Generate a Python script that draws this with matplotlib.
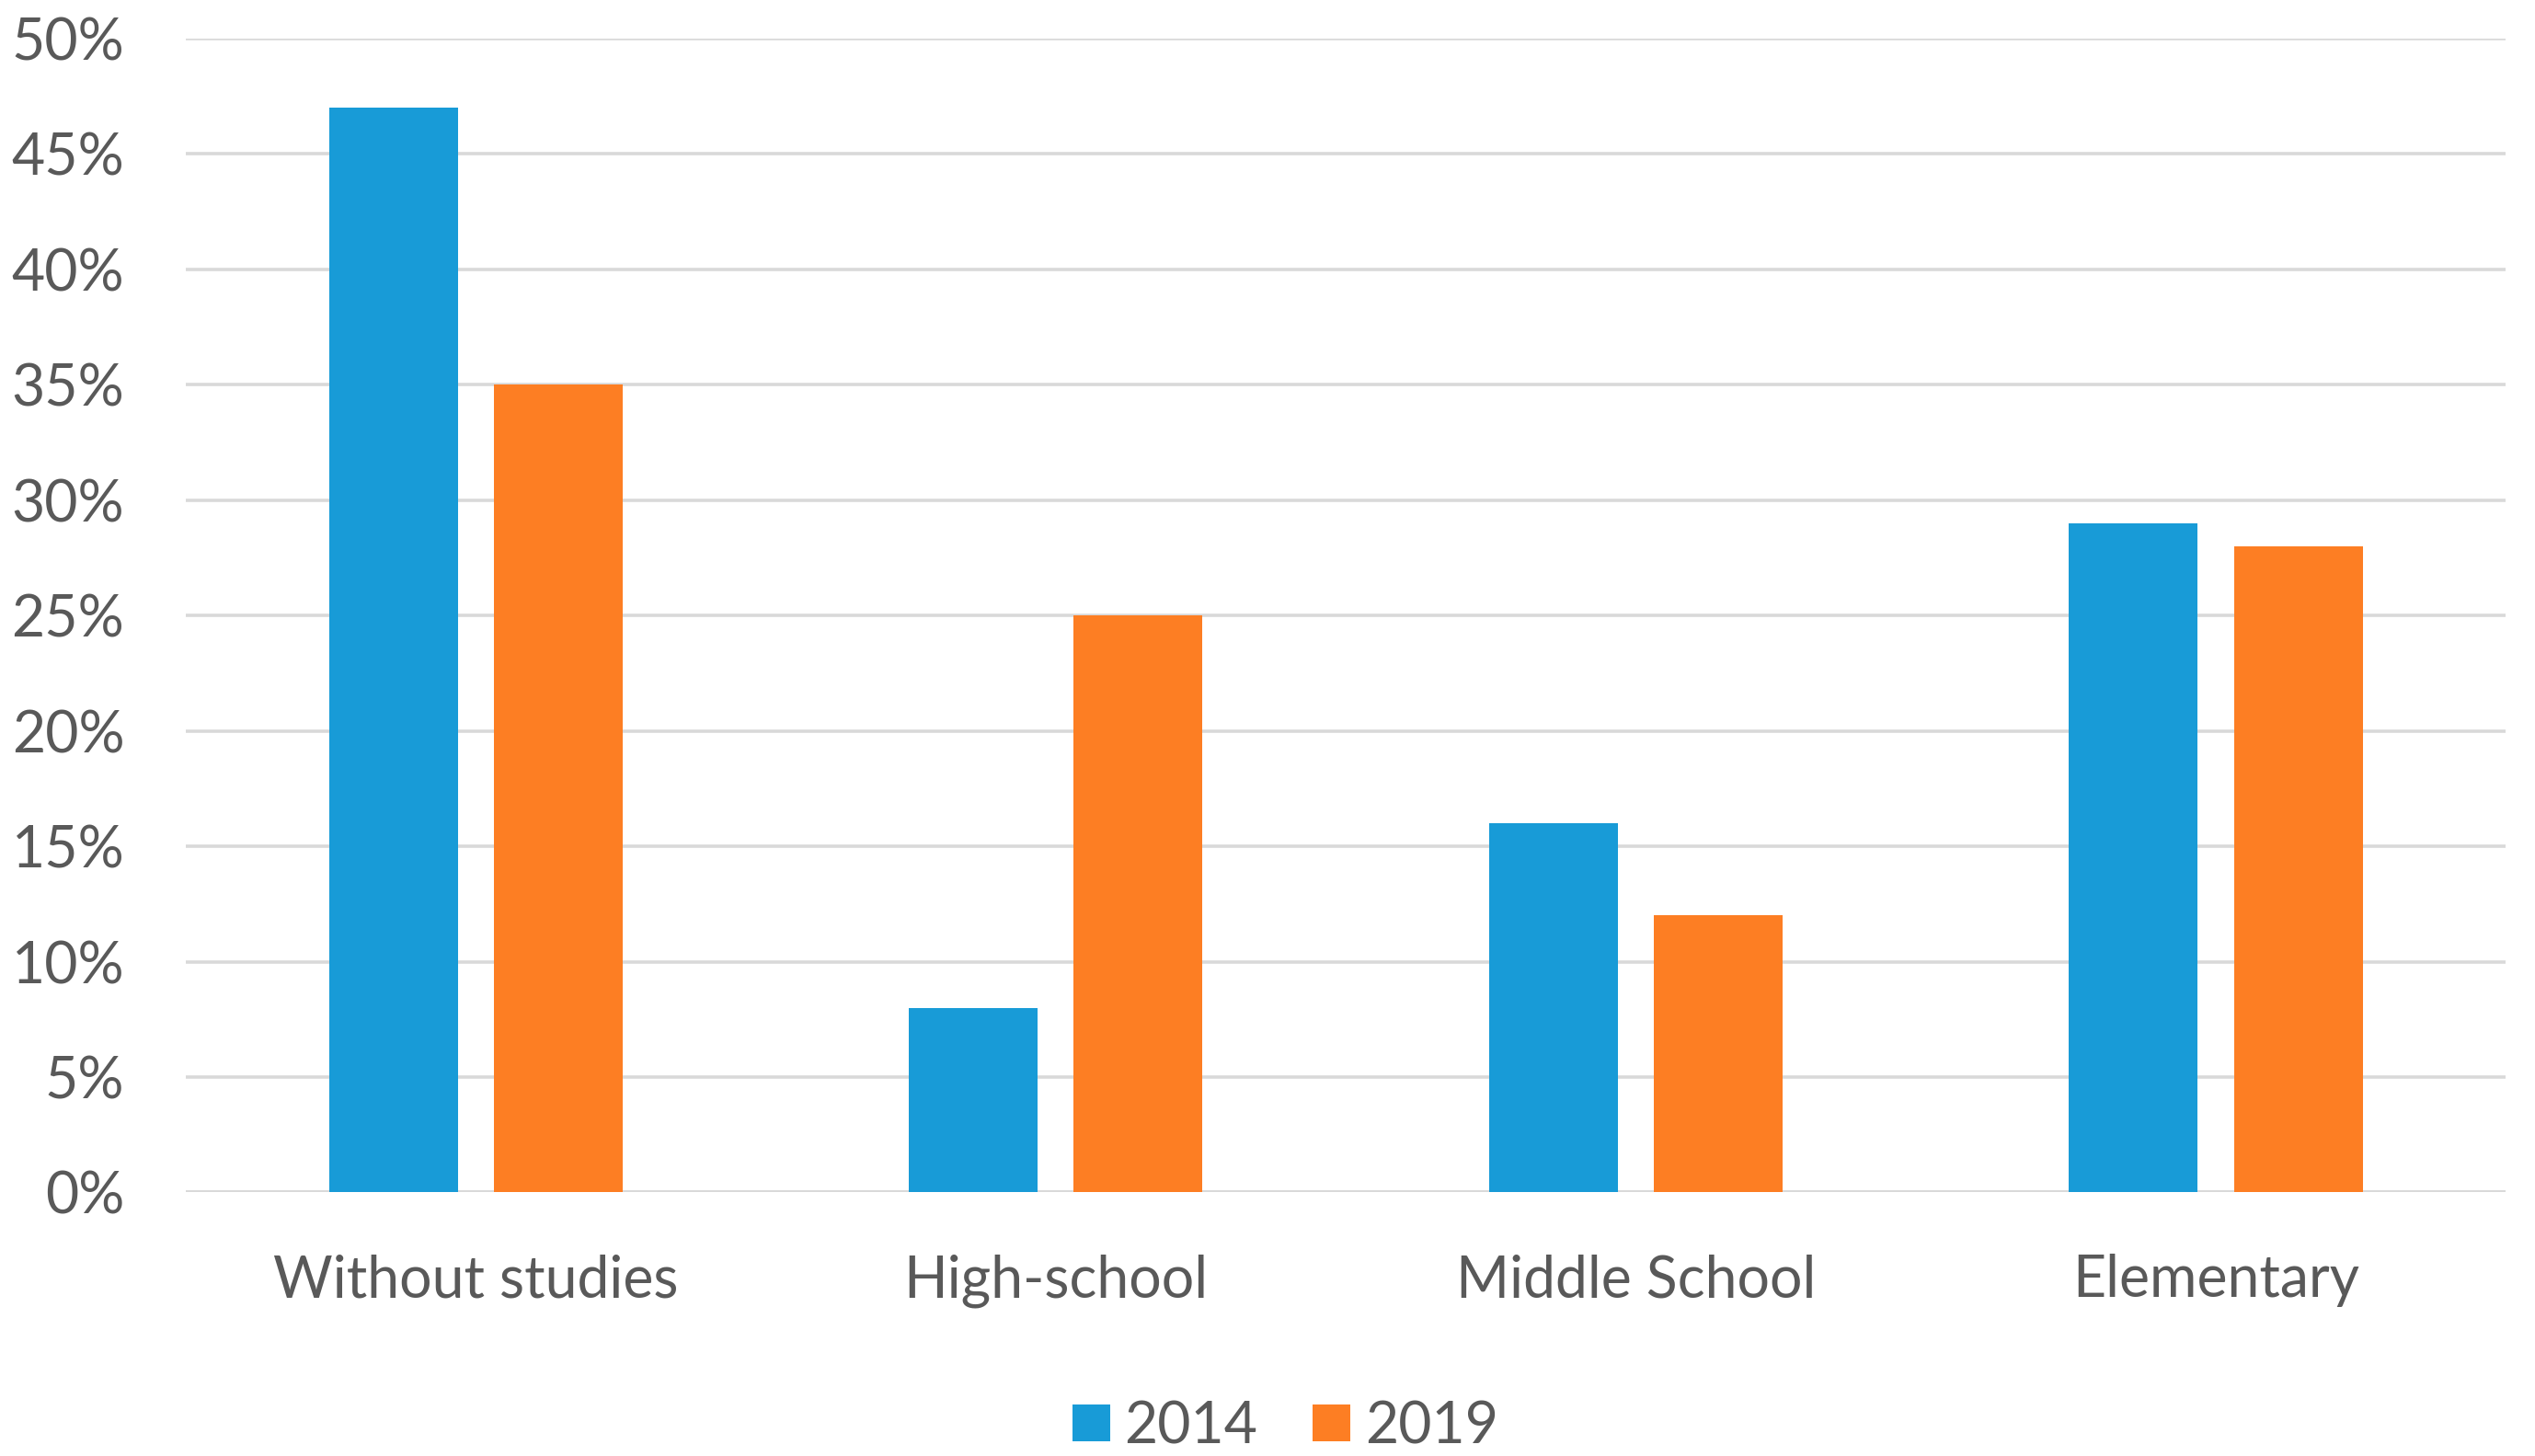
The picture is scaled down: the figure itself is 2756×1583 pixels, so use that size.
import numpy as np
import matplotlib.pyplot as plt
from matplotlib.ticker import PercentFormatter

# Data
categories = ["Without studies", "High-school", "Middle School", "Elementary"]
years = ["2014", "2019"]
values_2014 = [47, 8, 16, 29]
values_2019 = [35, 25, 12, 28]
colors = ["#189BD7", "#FD7E23"]

plt.rcParams['font.family'] = ['Lato', 'DejaVu Sans']
text_color = "#595959"

fig = plt.figure(figsize=(27.56, 15.83), dpi=100)
ax = fig.add_axes([0.0733, 0.181, 0.9152, 0.7925])

x = np.arange(len(categories))
width = 0.222
offset = 0.142
ax.bar(x - offset, values_2014, width, color=colors[0], label=years[0], zorder=3)
ax.bar(x + offset, values_2019, width, color=colors[1], label=years[1], zorder=3)

ax.set_xlim(-0.5, len(categories) - 0.5)
ax.set_ylim(0, 50)
ax.set_yticks(np.arange(0, 51, 5))
ax.yaxis.set_major_formatter(PercentFormatter(decimals=0))
ax.set_xticks(x)
ax.set_xticklabels(categories)

ax.grid(axis='y', color="#D9D9D9", linewidth=2.6, zorder=0)
ax.set_axisbelow(True)
for s in ax.spines.values():
    s.set_visible(False)
ax.axhline(0, color="#D9D9D9", linewidth=2.8, zorder=2)

ax.tick_params(axis='y', length=0, pad=48, labelsize=45, labelcolor=text_color)
ax.tick_params(axis='x', length=0, pad=48, labelsize=45, labelcolor=text_color)

leg = fig.legend(loc='center', bbox_to_anchor=(0.507, 0.02), ncol=2, frameon=False,
                 fontsize=45, handlelength=0.66, handleheight=0.6,
                 handletextpad=0.25, columnspacing=0.95)
for t in leg.get_texts():
    t.set_color(text_color)

fig.savefig("out.png", dpi=100, facecolor="white")
